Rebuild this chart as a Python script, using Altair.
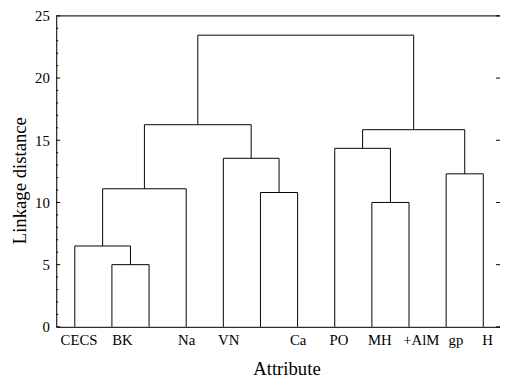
import altair as alt
import pandas as pd

# ---- data ----
n_leaves = 12
# merges: (left child id, right child id, linkage height); leaves are 1..12, merge ids continue 13..
merges = [
    (2, 3, 5.0),
    (1, 13, 6.5),
    (14, 4, 11.1),
    (6, 7, 10.8),
    (5, 16, 13.55),
    (15, 17, 16.25),
    (9, 10, 10.0),
    (8, 19, 14.35),
    (11, 12, 12.3),
    (20, 21, 15.85),
    (18, 22, 23.45),
]
tick_labels = ["CECS", "BK", "Na", "VN", "Ca", "PO", "MH", "+AlM", "gp", "H"]
tick_positions = [1.1, 2.27, 4.0, 5.13, 7.0, 8.1, 9.2, 10.32, 11.25, 12.1]
y_ticks = [0, 5, 10, 15, 20, 25]

# ---- build dendrogram segments ----
pos = {i: float(i) for i in range(1, n_leaves + 1)}
hgt = {i: 0.0 for i in range(1, n_leaves + 1)}
segs = []
nid = n_leaves + 1
for a, b, h in merges:
    xa, xb = pos[a], pos[b]
    segs.append({"x": xa, "y": hgt[a], "x2": xa, "y2": h})
    segs.append({"x": xa, "y": h, "x2": xb, "y2": h})
    segs.append({"x": xb, "y": hgt[b], "x2": xb, "y2": h})
    pos[nid] = (xa + xb) / 2
    hgt[nid] = h
    nid += 1
seg_df = pd.DataFrame(segs)

W, H = 451, 316
FONT = "Liberation Serif"
xscale = alt.Scale(domain=[0.5, 12.45], nice=False, zero=False)
yscale = alt.Scale(domain=[0, 25], nice=False, zero=False)

label_expr = "[" + ",".join("'%s'" % t for t in tick_labels) + "][indexof([" + \
    ",".join(str(v) for v in tick_positions) + "], datum.value)]"

dendro = alt.Chart(seg_df).mark_rule(color="black", strokeWidth=1).encode(
    x=alt.X("x:Q", scale=xscale, axis=alt.Axis(
        title="Attribute", values=tick_positions, labelExpr=label_expr,
        ticks=False, grid=False, domain=True, domainColor="black", domainWidth=1,
        labelFont=FONT, labelFontSize=15, labelColor="black", labelPadding=6,
        titleFont=FONT, titleFontSize=19, titleFontWeight="normal", titleColor="black",
        titleX=234, titleY=48, titleBaseline="alphabetic", titleAlign="center")),
    x2="x2:Q",
    y=alt.Y("y:Q", scale=yscale, axis=alt.Axis(
        title="Linkage distance", values=y_ticks, ticks=False, grid=False,
        domain=True, domainColor="black", domainWidth=1,
        labelFont=FONT, labelFontSize=15, labelColor="black", labelPadding=7,
        titleFont=FONT, titleFontSize=19, titleFontWeight="normal", titleColor="black",
        titleAngle=270, titleX=-31, titleY=167, titleBaseline="alphabetic", titleAlign="center")),
    y2="y2:Q",
)

minor_df = pd.DataFrame({"v": [v for v in range(0, 26) if v % 5 != 0]})
major_df = pd.DataFrame({"v": y_ticks})

minor_ticks = alt.Chart(minor_df).mark_rule(color="black", strokeWidth=1).encode(
    y=alt.Y("v:Q", scale=yscale), x=alt.value(0), x2=alt.value(2))
major_ticks = alt.Chart(major_df).mark_rule(color="black", strokeWidth=1).encode(
    y=alt.Y("v:Q", scale=yscale), x=alt.value(0), x2=alt.value(4))
right_ticks = alt.Chart(major_df).mark_rule(color="black", strokeWidth=1).encode(
    y=alt.Y("v:Q", scale=yscale), x=alt.value(W - 4), x2=alt.value(W))
top_line = alt.Chart(major_df.head(1)).mark_rule(color="black", strokeWidth=1).encode(
    y=alt.value(0), x=alt.value(0), x2=alt.value(W))

chart = alt.layer(dendro, minor_ticks, major_ticks, right_ticks, top_line).properties(
    width=W, height=H,
    autosize=alt.AutoSizeParams(type="none"),
    padding={"left": 49, "top": 5, "right": 0, "bottom": 50},
).configure_view(strokeWidth=0).configure(background="white")

chart.save("out.html", embed_options={"renderer": "svg", "actions": False})
